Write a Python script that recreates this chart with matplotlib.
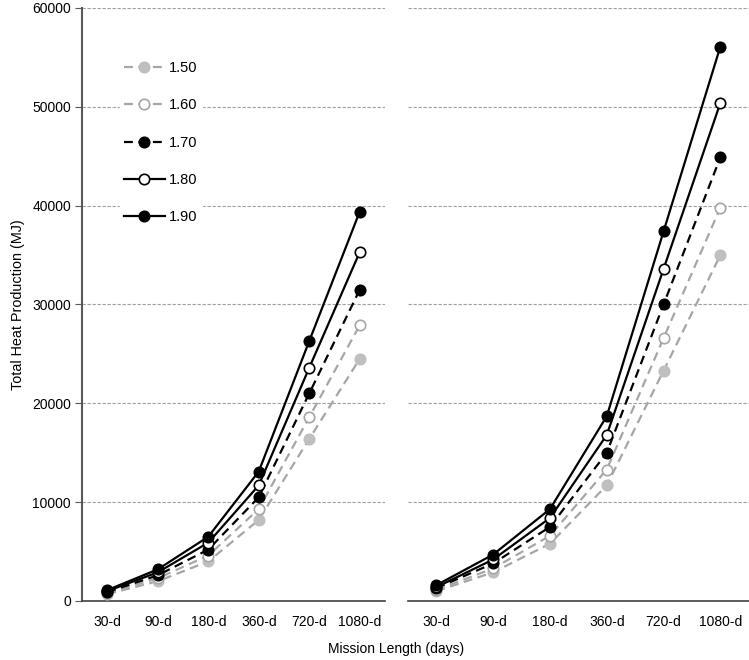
import matplotlib
matplotlib.use("Agg")
import matplotlib.pyplot as plt

plt.rcParams['font.family'] = ['Liberation Sans', 'DejaVu Sans']

missions = ["30-d", "90-d", "180-d", "360-d", "720-d", "1080-d"]
series_labels = ["1.50", "1.60", "1.70", "1.80", "1.90"]

# left panel
left_150 = [700, 2000, 4000, 8200, 16400, 24500]
left_160 = [800, 2300, 4600, 9300, 18600, 27900]
left_170 = [900, 2600, 5200, 10500, 21000, 31500]
left_180 = [1000, 2900, 5900, 11700, 23600, 35300]
left_190 = [1100, 3200, 6500, 13100, 26300, 39400]

# right panel
right_150 = [1000, 2900, 5800, 11700, 23300, 35000]
right_160 = [1100, 3300, 6600, 13300, 26600, 39800]
right_170 = [1300, 3800, 7500, 15000, 30000, 44900]
right_180 = [1400, 4200, 8400, 16800, 33600, 50400]
right_190 = [1600, 4700, 9300, 18700, 37400, 56100]

gray = "#a6a6a6"
styles = [
    dict(color=gray, ls=(0, (4, 2.5)), mfc="#bfbfbf", mec="#bfbfbf"),
    dict(color=gray, ls=(0, (4, 2.5)), mfc="white", mec=gray),
    dict(color="black", ls=(0, (4, 2.5)), mfc="black", mec="black"),
    dict(color="black", ls="-", mfc="white", mec="black"),
    dict(color="black", ls="-", mfc="black", mec="black"),
]

fig = plt.figure(figsize=(7.49, 6.6), dpi=100)
ax1 = fig.add_axes([0.1095, 0.0894, 0.4045, 0.8985])
ax2 = fig.add_axes([0.5447, 0.0894, 0.4550, 0.8985])

x = list(range(len(missions)))
panels = [(ax1, [left_150, left_160, left_170, left_180, left_190]),
          (ax2, [right_150, right_160, right_170, right_180, right_190])]

for ax, data in panels:
    for vals, st, lab in zip(data, styles, series_labels):
        ax.plot(x, vals, color=st["color"], linestyle=st["ls"], lw=1.6,
                marker="o", ms=7.5, mfc=st["mfc"], mec=st["mec"], mew=1.2,
                label=lab, zorder=3)
    ax.set_xlim(-0.5, 5.5)
    ax.set_ylim(0, 60000)
    ax.set_yticks(range(0, 60001, 10000))
    ax.set_xticks(x)
    ax.set_xticklabels(missions, fontsize=10)
    ax.yaxis.grid(True, color="#a0a0a0", ls=(0, (3, 1.5)), lw=0.8)
    ax.set_axisbelow(True)
    for s in ["top", "right"]:
        ax.spines[s].set_visible(False)
    ax.spines["bottom"].set_color("#404040")
    ax.spines["bottom"].set_linewidth(1.2)
    ax.tick_params(axis="x", length=0, pad=10)

ax1.spines["left"].set_color("#595959")
ax1.spines["left"].set_linewidth(1.5)
ax1.tick_params(axis="y", length=5, color="#595959", labelsize=10, pad=3)
ax2.spines["left"].set_visible(False)
ax2.tick_params(axis="y", length=0, labelleft=False)

ax1.set_ylabel("Total Heat Production (MJ)", fontsize=10.4, labelpad=5)
fig.text(0.529, 0.01, "Mission Length (days)", ha="center", fontsize=10)

leg = ax1.legend(loc="upper left", bbox_to_anchor=(0.1, 0.93), frameon=True,
                 edgecolor="white", facecolor="white", framealpha=1,
                 fontsize=10.5, handlelength=2.8, labelspacing=1.6,
                 handletextpad=0.3, borderpad=0.3)

fig.savefig("out.png", dpi=100)
